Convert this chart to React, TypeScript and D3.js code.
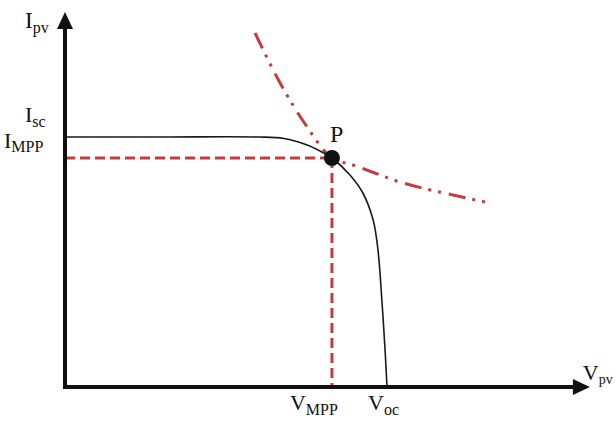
import React from "react";
import * as d3 from "d3";

// I–V characteristic of a PV cell (normalised: Voc = 1, Isc = 1)
const ivVoltage = [0, 0.3, 0.6, 0.68, 0.752, 0.792, 0.829, 0.885, 0.925, 0.957, 0.972, 0.984, 0.994, 1.0];
const ivCurrent = [1, 1, 1, 0.994, 0.968, 0.944, 0.916, 0.848, 0.776, 0.668, 0.548, 0.348, 0.148, 0];

// Constant-power curve through the maximum power point
const powerVoltage = [0.59, 0.668, 0.752, 0.829, 0.894, 1.05, 1.205, 1.32];
const powerCurrent = [1.416, 1.216, 1.04, 0.916, 0.888, 0.816, 0.768, 0.736];

// Key operating values
const Vmpp = 0.829;
const Impp = 0.916;
const Voc = 1.0;
const Isc = 1.0;
const vAxisMax = 1.63;
const iAxisMax = 1.5;

const W = 615;
const H = 421;
const RED = "#c43c3e";
const FONT = "'Liberation Serif', 'DejaVu Serif', serif";

function SubLabel({ x, y, main, sub, size = 22, subSize = 16, dy = 5 }: any) {
  return (
    <text x={x} y={y} fontFamily={FONT} fontSize={size} fill="#111">
      {main}
      <tspan dy={dy} fontSize={subSize}>{sub}</tspan>
    </text>
  );
}

export default function App() {
  const x = d3.scaleLinear().domain([0, 1]).range([65, 387]);
  const y = d3.scaleLinear().domain([0, 1]).range([387, 137]);

  const ivPts: [number, number][] = ivVoltage.map((v, i) => [v, ivCurrent[i]]);
  const pwPts: [number, number][] = powerVoltage.map((v, i) => [v, powerCurrent[i]]);

  const ivLine = d3
    .line<[number, number]>()
    .x((d) => x(d[0]))
    .y((d) => y(d[1]))
    .curve(d3.curveCatmullRom.alpha(0.5));

  const pwLine = d3
    .line<[number, number]>()
    .x((d) => x(d[0]))
    .y((d) => y(d[1]))
    .curve(d3.curveMonotoneX);

  const x0 = x(0);
  const y0 = y(0);
  const xEnd = x(vAxisMax);
  const yEnd = y(iAxisMax);
  const ah = 17; // arrowhead length
  const aw = 8; // arrowhead half width

  return (
    <svg
      width={W}
      height={H}
      style={{ position: "absolute", left: 0, top: 0, background: "#fff" }}
    >
      {/* dashed projections of the MPP onto the axes */}
      <line
        x1={x0}
        y1={y(Impp)}
        x2={x(Vmpp)}
        y2={y(Impp)}
        stroke={RED}
        strokeWidth={3}
        strokeDasharray="10,5"
      />
      <line
        x1={x(Vmpp)}
        y1={y(Impp)}
        x2={x(Vmpp)}
        y2={y0}
        stroke={RED}
        strokeWidth={3}
        strokeDasharray="10,5"
      />

      {/* constant-power hyperbola */}
      <path
        d={pwLine(pwPts) || ""}
        fill="none"
        stroke={RED}
        strokeWidth={3}
        strokeDasharray="17,7,3,7,3,8"
      />

      {/* I–V curve */}
      <path d={ivLine(ivPts) || ""} fill="none" stroke="#1a1a1a" strokeWidth={1.6} />

      {/* axes */}
      <line x1={x0} y1={y0} x2={xEnd - ah + 2} y2={y0} stroke="#111" strokeWidth={4} />
      <line x1={x0} y1={y0 + 2} x2={x0} y2={yEnd + ah - 2} stroke="#111" strokeWidth={4} />
      <path
        d={`M${xEnd},${y0} L${xEnd - ah},${y0 - aw} L${xEnd - ah},${y0 + aw} Z`}
        fill="#111"
      />
      <path
        d={`M${x0},${yEnd} L${x0 - aw},${yEnd + ah} L${x0 + aw},${yEnd + ah} Z`}
        fill="#111"
      />

      {/* maximum power point */}
      <circle cx={x(Vmpp)} cy={y(Impp)} r={8} fill="#111" />
      <text x={x(Vmpp) - 2} y={y(Impp) - 16} fontFamily={FONT} fontSize={24} fill="#111">
        P
      </text>

      {/* axis labels */}
      <SubLabel x={25} y={yEnd + 16} main="I" sub="pv" size={23} />
      <SubLabel x={25} y={y(Isc) - 15} main="I" sub="sc" />
      <SubLabel x={4} y={y(Impp) - 10} main="I" sub="MPP" dy={4} />
      <SubLabel x={x(Vmpp) - 42} y={y0 + 23} main="V" sub="MPP" />
      <SubLabel x={x(Voc) - 19} y={y0 + 23} main="V" sub="oc" />
      <SubLabel x={xEnd - 7} y={y0 - 7} main="V" sub="pv" size={22} subSize={14} dy={4} />
    </svg>
  );
}
